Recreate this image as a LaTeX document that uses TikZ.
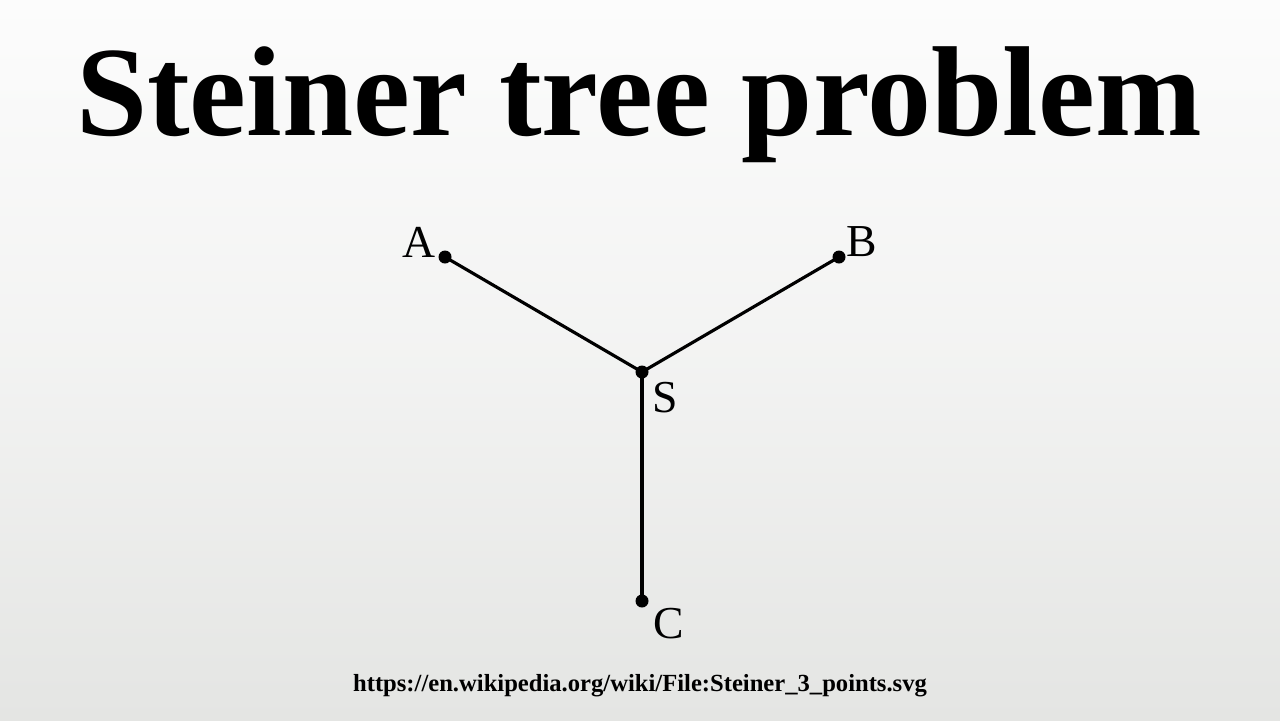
\documentclass[tikz,border=0pt]{standalone}
\usepackage{fontspec}
\setmainfont{Liberation Serif}
\usetikzlibrary{positioning}
\definecolor{bgtop}{RGB}{252,252,252}
\definecolor{bgbot}{RGB}{228,229,227}
\begin{document}
\begin{tikzpicture}[x=0.01cm,y=0.01cm,
  pt/.style={circle,fill=black,inner sep=0pt,minimum size=0.13cm},
  lbl/.style={font=\fontsize{13}{13}\selectfont}]
\useasboundingbox (0,0) rectangle (1280,720);
\shade[top color=bgtop,bottom color=bgbot,middle color=bgtop!60!bgbot] (0,0) rectangle (1280,720);
\node (TITLE) [anchor=base,font=\fontsize{36.4}{36.4}\selectfont\bfseries] at (639,585) {Steiner tree problem};
\node (A) [pt] at (445,463) {};
\node (B) [pt] at (839,463) {};
\node (S) [pt] at (642,348) {};
\node (C) [pt] at (642,119) {};
\node (LA) [lbl] at (419,478) {A};
\node (LB) [lbl] at (862,478) {B};
\node (LS) [lbl] at (665,322) {S};
\node (LC) [lbl] at (669,96) {C};
\node (URL) [anchor=base,font=\fontsize{7}{7}\selectfont\bfseries] at (640,29) {https://en.wikipedia.org/wiki/File:Steiner\_3\_points.svg};
\draw [line width=0.9pt] (A.center) to (S.center);
\draw [line width=0.9pt] (B.center) to (S.center);
\draw [line width=0.9pt] (C.center) to (S.center);
\end{tikzpicture}
\end{document}
